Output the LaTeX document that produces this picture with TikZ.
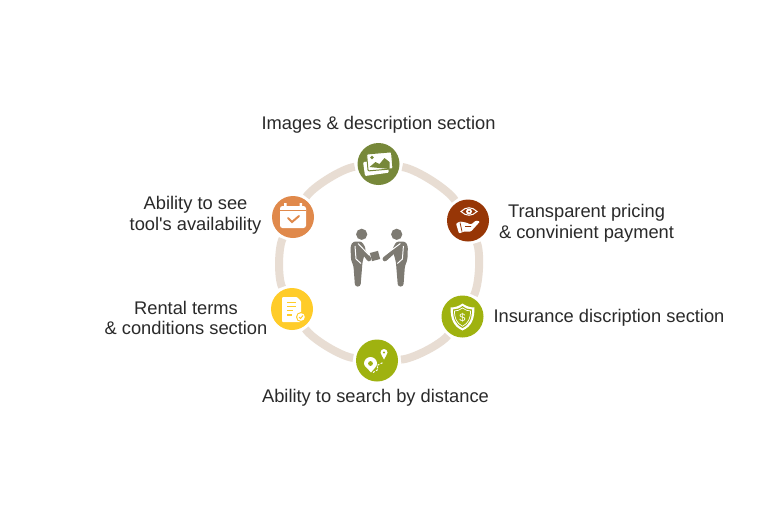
\documentclass[tikz,border=0pt]{standalone}
\usepackage{fontspec}
\setmainfont{Liberation Sans}
\definecolor{ringc}{HTML}{E8DDD3}
\definecolor{txtc}{HTML}{2A2A2A}
\definecolor{personc}{HTML}{7D7A72}
\definecolor{imgc}{HTML}{77883A}
\definecolor{payc}{HTML}{973606}
\definecolor{insc}{HTML}{9FB210}
\definecolor{yelc}{HTML}{FFCC29}
\definecolor{orac}{HTML}{E0894B}
\begin{document}
\begin{tikzpicture}[x=1pt,y=-1pt,
  ele/.style={fill=#1,circle,minimum size=42pt,inner sep=0pt,outer sep=3pt},
  lbl/.style={text=txtc,font=\fontsize{18.3}{20.8}\selectfont,align=center,inner sep=0pt},
  ringseg/.style={draw=ringc,line width=8pt,bend left=25,looseness=.55},
  ico/.style={fill=white,draw=none}]
  \useasboundingbox (0,0) rectangle (768,512);
  \fill[white] (0,0) rectangle (768,512);

  \node[ele=imgc] (imgs) at (378.5,164) {};
  \node[ele=payc] (pay) at (468,220.5) {};
  \node[ele=insc] (ins) at (462.5,316.5) {};
  \node[ele=insc] (dist) at (377,360.5) {};
  \node[ele=yelc] (terms) at (292,309) {};
  \node[ele=orac] (avail) at (293,217) {};

  \draw[ringseg] (imgs) to (pay);
  \draw[ringseg] (pay) to (ins);
  \draw[ringseg] (ins) to (dist);
  \draw[ringseg] (dist) to (terms);
  \draw[ringseg] (terms) to (avail);
  \draw[ringseg] (avail) to (imgs);

  \node[lbl] (limgs) at (378.5,124.5) {Images \& description section};
  \node[lbl] (lpay) at (586.5,223) {Transparent pricing\\\& convinient payment};
  \node[lbl] (lins) at (609,317.5) {Insurance discription section};
  \node[lbl] (ldist) at (375.5,398) {Ability to search by distance};
  \node[lbl] (lterms) at (186,318) {Rental terms\\\& conditions section};
  \node[lbl] (lavail) at (195.5,215.5) {Ability to see\\tool\textquotesingle s availability};

  % two people
  \foreach \m/\s/\h in {0/1/369,758.4/-1/373.5}{
    \begin{scope}[shift={(\m,0)},xscale=\s]
      \fill[personc] (361.7,234.3) circle (5.6);
      \fill[personc,rounded corners=2.5pt] (350.5,246) -- (353,241.5) -- (362,241.5) -- (366,249) -- (362.5,262) -- (360.5,286.5) -- (355,286.5) -- (353.5,266) -- (351,260) -- cycle;
      \draw[personc,line width=4.6pt,line cap=round] (359,246) -- (\h,259);
      \draw[white,line width=1pt] (355,246) -- (356,259) -- (361,263.5) (358,243.5) -- (\h,255);
    \end{scope}
  }
  \fill[personc,rotate around={15:(375,256)}] (370.8,251.8) rectangle (379.2,260.2);

  % images
  \begin{scope}[shift={(imgs)}]
    \fill[ico,rounded corners=1pt,rotate=8] (-15,-4) rectangle (9,10);
    \draw[imgc,fill=white,line width=1pt,rounded corners=1pt,rotate=5] (-11,-11) rectangle (14,6);
    \fill[imgc] (-6.5,-6.5) circle (1.8);
    \fill[imgc] (-9,3) -- (-3,-2) -- (1,0) -- (6,-6) -- (11,-2) -- (11,5) -- cycle;
  \end{scope}

  % eye and hand
  \begin{scope}[shift={(pay)}]
    \draw[white,line width=1pt] (-7,-9) .. controls (-2,-14) and (4,-14) .. (9,-9) .. controls (4,-4) and (-2,-4) .. cycle;
    \fill[ico] (1,-9) circle (3);
    \fill[payc] (1,-9) circle (1);
    \fill[ico,rounded corners=1pt] (-12,3) -- (-8,1) -- (-2,2) -- (3,4) -- (8,0) -- (12,1) -- (3,11) -- (-4,11) -- (-9,13) -- cycle;
    \draw[payc,line width=.8pt] (-8,2) -- (-6,11) (-3,6) -- (3,6);
  \end{scope}

  % calendar
  \begin{scope}[shift={(avail)}]
    \fill[ico,rounded corners=2.5pt] (-13,-11) rectangle (13,11);
    \fill[ico] (-9,-14) rectangle (-6.5,-9) (6.5,-14) rectangle (9,-9);
    \draw[orac,line width=1pt] (-13,-6.5) -- (13,-6.5);
    \draw[orac,line width=2pt,line cap=round] (-5,1) -- (-1,5) -- (6,-1);
  \end{scope}

  % document
  \begin{scope}[shift={(terms)}]
    \fill[ico,rounded corners=1pt] (-10,-12) -- (5,-12) -- (9,-8) -- (9,13) -- (-10,13) -- cycle;
    \draw[yelc,line width=1.6pt] (-5,-6.5) -- (4,-6.5) (-5,-2.5) -- (4,-2.5) (-5,1.5) -- (1,1.5) (-5,6) -- (0,6);
    \fill[yelc] (9,8) circle (5);
    \fill[ico] (9,8) circle (3.8);
    \draw[yelc,line width=1pt] (7,8) -- (8.5,9.5) -- (11,6.5);
  \end{scope}

  % shield
  \begin{scope}[shift={(ins)}]
    \fill[ico] (0,-13) .. controls (4,-10) and (8,-9) .. (12,-9) .. controls (12,3) and (9,10) .. (0,14) .. controls (-9,10) and (-12,3) .. (-12,-9) .. controls (-8,-9) and (-4,-10) .. cycle;
    \fill[insc] (0,-10.5) .. controls (3,-8) and (6,-7) .. (9.5,-7) .. controls (9.5,2) and (7,8) .. (0,11.5) .. controls (-7,8) and (-9.5,2) .. (-9.5,-7) .. controls (-6,-7) and (-3,-8) .. cycle;
    \draw[white,line width=.7pt] (0,-8.5) .. controls (3,-6.5) and (5,-5.5) .. (8,-5.5) .. controls (8,2) and (6,6.5) .. (0,9.8) .. controls (-6,6.5) and (-8,2) .. (-8,-5.5) .. controls (-5,-5.5) and (-3,-6.5) .. cycle;
    \node[text=white,font=\fontsize{11}{11}\selectfont,inner sep=0pt] (dollar) at (0,1) {\$};
  \end{scope}

  % pins
  \begin{scope}[shift={(dist)}]
    \fill[ico] (-6,12) .. controls (-9,8) and (-13,6) .. (-13,3) arc (180:360:6.5) .. controls (0,6) and (-3,8) .. cycle;
    \fill[insc] (-6.5,3) circle (2.4);
    \fill[ico] (7,-1) .. controls (6,-4) and (3.5,-6) .. (3.5,-8) arc (180:360:3.5) .. controls (10.5,-6) and (8,-4) .. cycle;
    \fill[insc] (7,-8) circle (1.2);
    \draw[white,line width=1pt,dash pattern=on 2pt off 1.5pt] (-4,12) -- (1,9) -- (0,5) -- (6,2);
  \end{scope}
\end{tikzpicture}
\end{document}
